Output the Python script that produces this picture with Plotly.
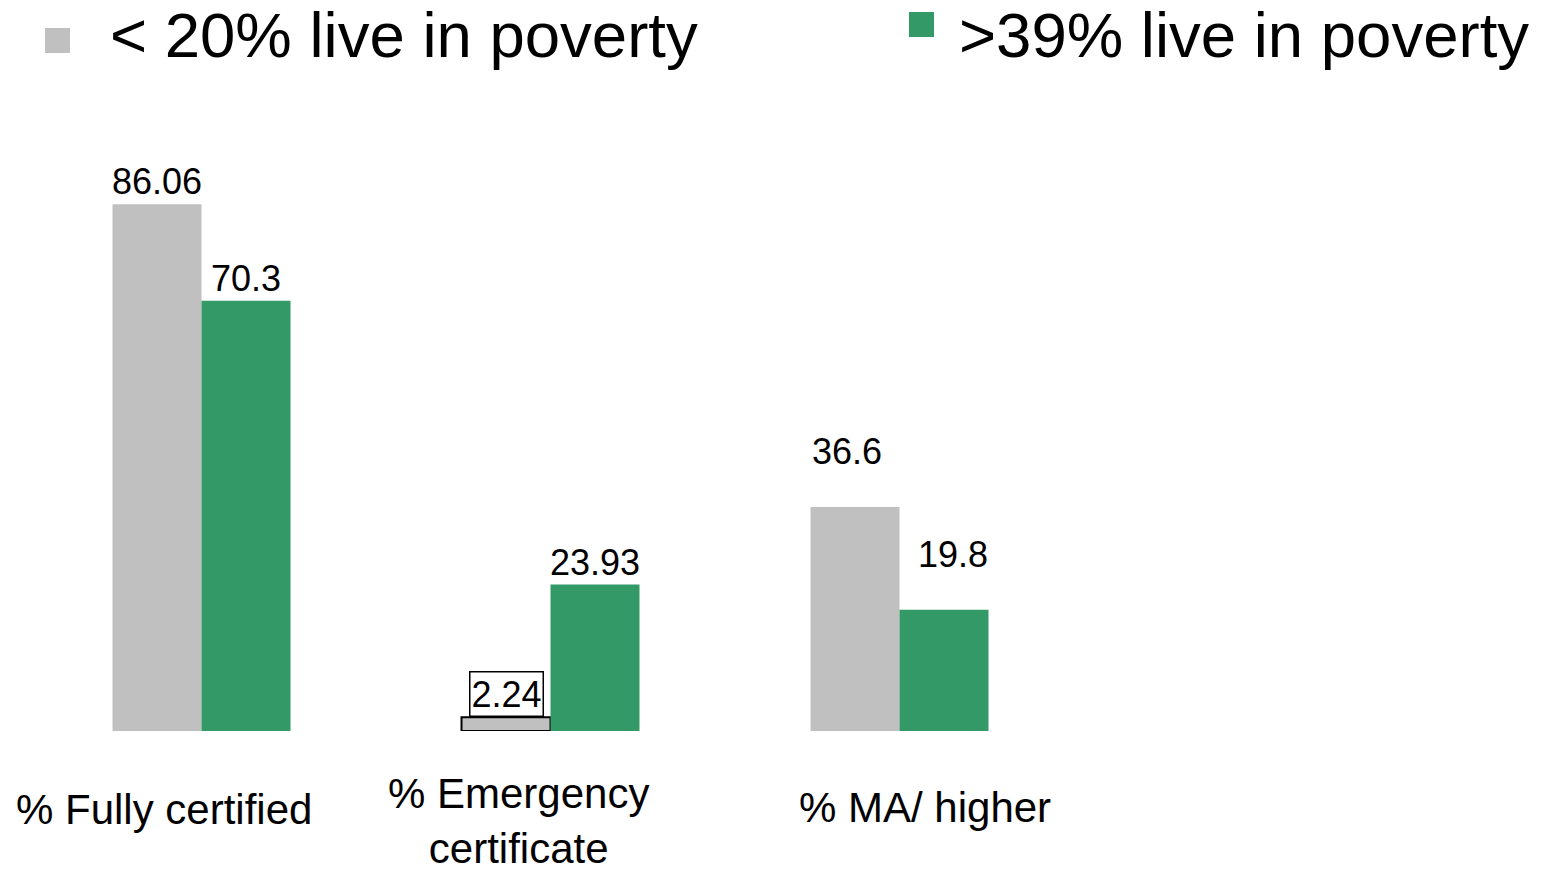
import plotly.graph_objects as go

# Teacher qualification indicators by school poverty level
categories = ["% Fully certified", "% Emergency certificate", "% MA/ higher"]
category_labels = ["% Fully certified", "% Emergency<br>certificate", "% MA/ higher"]
series_names = ["< 20% live in poverty", ">39% live in poverty"]
low_poverty = [86.06, 2.24, 36.6]
high_poverty = [70.3, 23.93, 19.8]

GRAY = "#C0C0C0"
GREEN = "#339966"
FONT = "Liberation Sans, Arial, sans-serif"

# Page geometry (pixels)
W, H = 1545, 872
L, R, T, B = 27, 122, 119, 141
PLOT_W = W - L - R
PLOT_H = H - T - B
N_SLOTS = 4                      # x range spans one spare slot on the right
SLOT_PX = PLOT_W / N_SLOTS
BARGAP = 0.49
BAR_PX = SLOT_PX * (1 - BARGAP) / 2


def px_x(px):
    return (px - L) / PLOT_W


def px_y(py):
    return (H - B - py) / PLOT_H


fig = go.Figure()
fig.add_trace(go.Bar(
    x=categories, y=low_poverty, name=series_names[0],
    marker=dict(color=GRAY, line=dict(color="black", width=[0, 2, 0])),
    showlegend=False, hoverinfo="x+y",
))
fig.add_trace(go.Bar(
    x=categories, y=high_poverty, name=series_names[1],
    marker=dict(color=GREEN, line=dict(width=0)),
    showlegend=False, hoverinfo="x+y",
))

annotations = []

# value labels above the bars
label_lift = [0, 0, 33]
low_nudge = [0, 0, -8]
high_nudge = [0, 0, 9]
boxed = [False, True, False]
for cat, v, lift, dx, box in zip(categories, low_poverty, label_lift, low_nudge, boxed):
    a = dict(x=cat, y=v, xref="x", yref="y", text=f"{v:g}", showarrow=False,
             xshift=-BAR_PX / 2 + dx, yshift=lift, yanchor="bottom", xanchor="center",
             font=dict(family=FONT, size=36, color="black"))
    if box:
        a.update(bordercolor="black", borderwidth=1.5, borderpad=1, bgcolor="white")
    annotations.append(a)
for cat, v, lift, dx in zip(categories, high_poverty, label_lift, high_nudge):
    annotations.append(dict(
        x=cat, y=v, xref="x", yref="y", text=f"{v:g}", showarrow=False,
        xshift=BAR_PX / 2 + dx, yshift=lift, yanchor="bottom", xanchor="center",
        font=dict(family=FONT, size=36, color="black")))

# category labels under the groups
label_dx = [-38, -32, 25]
label_dy = [-53, -37, -51]
for cat, txt, dx, dy in zip(categories, category_labels, label_dx, label_dy):
    annotations.append(dict(
        x=cat, y=0, xref="x", yref="paper", text=txt, showarrow=False,
        xshift=dx, yshift=dy, yanchor="top", xanchor="center", align="center",
        font=dict(family=FONT, size=42, color="black")))

# legend: colour squares with large captions
legend_items = [
    (series_names[0], GRAY, (45, 28), 108),
    (series_names[1], GREEN, (909, 12), 957),
]
shapes = []
for name, color, (sx, sy), tx in legend_items:
    shapes.append(dict(type="rect", xref="paper", yref="paper",
                       x0=px_x(sx), x1=px_x(sx + 25), y0=px_y(sy + 25), y1=px_y(sy),
                       fillcolor=color, line=dict(width=0)))
    annotations.append(dict(
        x=px_x(tx), y=px_y(-2), xref="paper", yref="paper", text=name,
        showarrow=False, xanchor="left", yanchor="top",
        font=dict(family=FONT, size=63.5, color="black")))

fig.update_layout(
    width=W, height=H,
    margin=dict(l=L, r=R, t=T, b=B),
    barmode="group", bargap=BARGAP, bargroupgap=0,
    paper_bgcolor="white", plot_bgcolor="white",
    xaxis=dict(type="category", range=[-0.5, N_SLOTS - 0.5], showticklabels=False,
               showgrid=False, zeroline=False, showline=False, ticks=""),
    yaxis=dict(range=[0, 100], visible=False, showgrid=False, zeroline=False),
    annotations=annotations, shapes=shapes,
    font=dict(family=FONT, color="black"),
)

fig.write_html("out.html")
